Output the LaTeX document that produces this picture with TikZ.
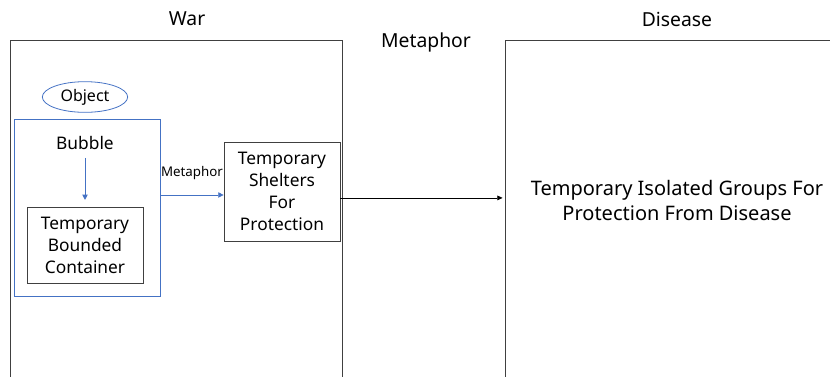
\documentclass[tikz,border=0pt]{standalone}
\usepackage{fontspec}
\setmainfont{Noto Sans}
\usetikzlibrary{positioning, arrows.meta, shapes.geometric}
\definecolor{linkblue}{HTML}{4472C4}
\definecolor{framegray}{HTML}{404040}

\begin{document}
\begin{tikzpicture}[x=0.75pt, y=-0.75pt,
    every node/.style={align=center, inner sep=0pt, font=\fontsize{13}{16.5}\selectfont},
    frame/.style={draw=framegray, line width=0.6pt},
    title/.style={font=\fontsize{14.5}{17}\selectfont},
    group/.style={draw=linkblue, line width=0.6pt},
    bluearrow/.style={draw=linkblue, line width=0.6pt, -{Triangle[length=4pt, width=4pt]}},
    blackarrow/.style={draw=black, line width=0.6pt, -{Triangle[length=4pt, width=3.5pt]}}
  ]
  \useasboundingbox (0,0) rectangle (830,376);
  \clip (0,0) rectangle (830,376);

  % the two domains
  \node[frame, minimum width=249pt, minimum height=285pt] (war) at (176,230) {};
  \node[frame, minimum width=258pt, minimum height=285pt] (disease) at (677,230) {};
  \node[title] (warlabel) at (187,19) {War};
  \node[title] (diseaselabel) at (677,19) {Disease};
  \node[title] (metalabel) at (426,42) {Metaphor};

  % object side
  \node[group, ellipse, minimum width=64pt, minimum height=23pt, font=\fontsize{12}{14}\selectfont]
    (object) at (85,97) {Object};
  \node[group, minimum width=109.5pt, minimum height=132.75pt] (bubblebox) at (87,207.5) {};
  \node (bubble) at (85,143) {Bubble};
  \node[frame, minimum width=87pt, minimum height=57pt] (container) at (85,245)
    {Temporary\\Bounded\\Container};
  \node[frame, minimum width=87pt, minimum height=74.25pt] (shelters) at (282,191.5)
    {Temporary\\Shelters\\For\\Protection};
  \node[font=\fontsize{15}{18.75}\selectfont] (target) at (677,200)
    {Temporary Isolated Groups For\\Protection From Disease};

  % connectors
  \draw[bluearrow, shorten <=6pt, shorten >=5pt] (bubble.south -| container.north) -- (container.north);
  \draw[bluearrow] ([yshift=-2.6pt]shelters.west -| bubblebox.east) -- ([yshift=-2.6pt]shelters.west)
    node[midway, above=11pt, font=\fontsize{10}{12}\selectfont] {Metaphor};
  \draw[blackarrow, shorten >=1.5pt] ([yshift=-4.8pt]shelters.east) -- ([yshift=-4.8pt]shelters.east -| disease.west);
\end{tikzpicture}
\end{document}
